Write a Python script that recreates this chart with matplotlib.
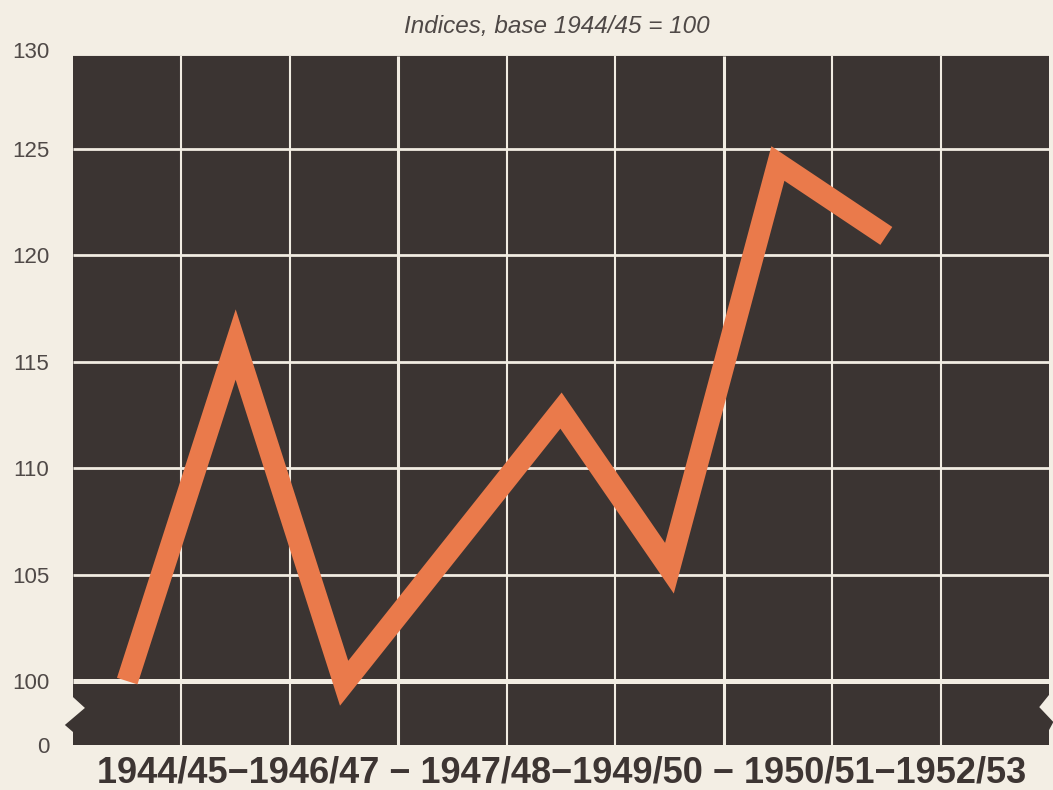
import matplotlib
matplotlib.use('Agg')
import matplotlib.pyplot as plt
from matplotlib.patches import Polygon

# data (column index = season slot, value = index 1944/45 = 100)
columns = [0, 1, 2, 4, 5, 6, 7]
index_values = [100.0, 115.8, 99.9, 112.7, 105.3, 124.3, 120.9]
n_columns = 9

y_ticks = [100, 105, 110, 115, 120, 125]
y_top_label = '130'
y_break_value = 97.0
title = 'Indices, base 1944/45 = 100'
x_label_text = '1944/45\u22121946/47 \u2212 1947/48\u22121949/50 \u2212 1950/51\u22121952/53'

paper = '#f3eee4'
board = '#3b3432'
chalk = '#f1ece2'
orange = '#ea7a4b'
ink = '#3d3533'
grey = '#4f4947'

plt.rcParams['font.family'] = ['Liberation Sans', 'DejaVu Sans']

y_top = 129.35
px_per_unit = 21.3
ax_h = (y_top - y_break_value) * px_per_unit

fig = plt.figure(figsize=(10.53, 7.9), dpi=100, facecolor=paper)
ax = fig.add_axes([73 / 1053, 45 / 790, (1049 - 73) / 1053, ax_h / 790])
ax.set_facecolor(paper)

x_lo, x_hi = -0.5, n_columns - 0.5
ax.set_xlim(x_lo, x_hi)
ax.set_ylim(y_break_value, y_top)

# dark board with the broken-axis notches on both sides
board_outline = [
    (x_lo, y_top), (x_hi, y_top),
    (x_hi, 99.35), (x_hi - 0.09, 98.78), (x_hi + 0.04, 98.08), (x_hi, 97.7),
    (x_hi, y_break_value), (x_lo, y_break_value),
    (x_lo, 97.61), (x_lo - 0.075, 97.94), (x_lo + 0.11, 98.74), (x_lo, 99.25),
]
ax.add_patch(Polygon(board_outline, closed=True, facecolor=board, edgecolor='none',
                     clip_on=False, zorder=0))

# chalk grid
for v in y_ticks:
    lw = 3.6 if v == 100 else 2.0
    ax.hlines(v, x_lo, x_hi, color=chalk, lw=lw, zorder=1)
for c in range(1, n_columns):
    lw = 2.2 if c in (3, 6) else 1.5
    ax.vlines(c - 0.5, y_break_value, y_top, color=chalk, lw=lw, zorder=1)

ax.plot(columns, index_values, color=orange, lw=15.5, solid_joinstyle='miter',
        solid_capstyle='butt', zorder=3)

ax.set_yticks([y_break_value] + y_ticks)
ax.set_yticklabels(['0'] + [str(v) for v in y_ticks])
ax.tick_params(axis='y', length=0, pad=17, labelsize=16, labelcolor=grey)
ax.annotate(y_top_label, xy=(x_lo, y_top), xytext=(-17, 4), textcoords='offset points',
            ha='right', va='center_baseline', fontsize=16, color=grey)
ax.set_xticks([])
for s in ax.spines.values():
    s.set_visible(False)

fig.text(0.529, 0.966, title, ha='center', va='center', fontsize=17.5,
         style='italic', color=grey)
fig.text(0.533, 0.021, x_label_text, ha='center', va='center', fontsize=26,
         fontweight='bold', color=ink)

fig.savefig('out.png', dpi=100, facecolor=paper)
